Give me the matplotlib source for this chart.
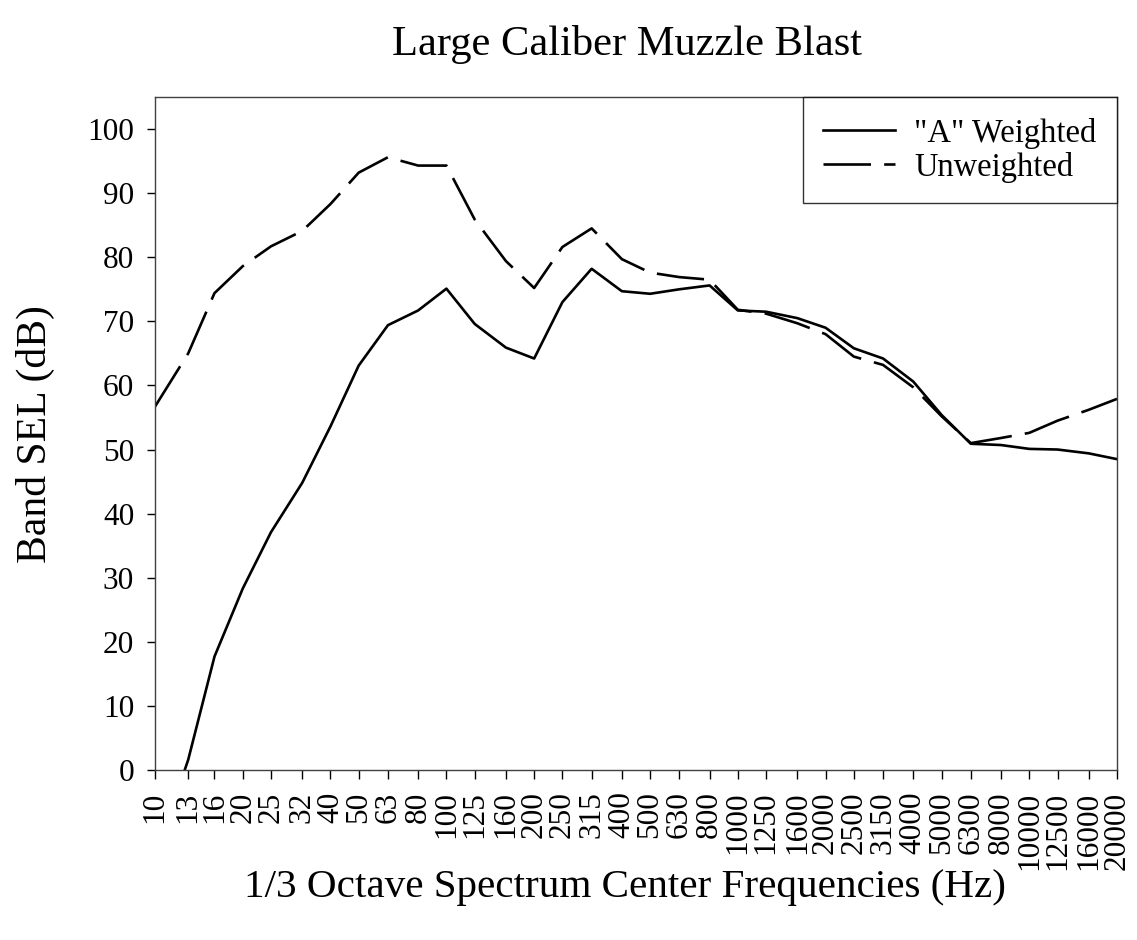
import matplotlib
matplotlib.use("Agg")
import matplotlib.pyplot as plt
from matplotlib.ticker import FixedLocator, NullLocator, FixedFormatter

plt.rcParams['font.family'] = ['Liberation Serif', 'DejaVu Serif']

freqs = [10, 13, 16, 20, 25, 32, 40, 50, 63, 80, 100, 125, 160, 200, 250, 315,
         400, 500, 630, 800, 1000, 1250, 1600, 2000, 2500, 3150, 4000, 5000,
         6300, 8000, 10000, 12500, 16000, 20000]
freq_labels = [str(f) for f in freqs]

a_weighted = [-13.7, 1.6, 17.7, 28.3, 37.1, 44.8, 53.6, 63.1, 69.4, 71.7, 75.1,
              69.6, 65.9, 64.2, 73.0, 78.2, 74.7, 74.3, 75.0, 75.6, 71.7, 71.5,
              70.5, 69.0, 65.8, 64.2, 60.6, 55.4, 50.9, 50.7, 50.1, 50.0, 49.4, 48.5]
unweighted = [56.7, 65.0, 74.4, 78.6, 81.7, 84.1, 88.3, 93.2, 95.6, 94.3, 94.3,
              85.9, 79.4, 75.2, 81.6, 84.5, 79.7, 77.6, 76.9, 76.5, 71.8, 71.2,
              69.7, 68.0, 64.5, 63.2, 59.7, 55.2, 51.0, 51.8, 52.6, 54.5, 56.2, 57.9]
yticks = [0, 10, 20, 30, 40, 50, 60, 70, 80, 90, 100]

fig = plt.figure(figsize=(11.37, 9.40), dpi=100)
ax = fig.add_axes([155/1137, 1-770/940, (1117-155)/1137, (770-97)/940])

ax.plot(freqs, a_weighted, color='black', lw=1.9, label='"A" Weighted')
ax.plot(freqs, unweighted, color='black', lw=1.9, linestyle=(0, (18, 5)),
        label='Unweighted')

ax.set_xscale('log')
ax.set_xlim(10, 20000)
ax.set_ylim(0, 105)
ax.xaxis.set_major_locator(FixedLocator(freqs))
ax.xaxis.set_major_formatter(FixedFormatter(freq_labels))
ax.xaxis.set_minor_locator(NullLocator())
ax.set_yticks(yticks)
ax.set_yticklabels([str(v) for v in yticks])

for lab in ax.get_xticklabels():
    lab.set_rotation(90)
ax.tick_params(axis='x', direction='out', length=6.5, width=1, pad=9, labelsize=22.5, colors='black')
ax.tick_params(axis='y', direction='out', length=6, width=1, pad=9, labelsize=22.5, colors='black')

for s in ax.spines.values():
    s.set_color('#404040')
    s.set_linewidth(1.0)

fig.text(35/1137, 1-434/940, 'Band SEL (dB)', fontsize=30, rotation=90,
         ha='center', va='center')
fig.text(625/1137, 1-888/940, '1/3 Octave Spectrum Center Frequencies (Hz)',
         fontsize=29.6, ha='center', va='center')
fig.text(627/1137, 1-45/940, 'Large Caliber Muzzle Blast', fontsize=30.6,
         ha='center', va='center')

leg = ax.legend(loc='upper right', borderaxespad=0, fontsize=23.5, frameon=True,
                fancybox=False, handlelength=2.2, handletextpad=0.58,
                borderpad=0.63, labelspacing=0.09)
leg.get_frame().set_edgecolor('black')
leg.get_frame().set_linewidth(1.0)

fig.savefig('out.png', dpi=100, facecolor='white')
